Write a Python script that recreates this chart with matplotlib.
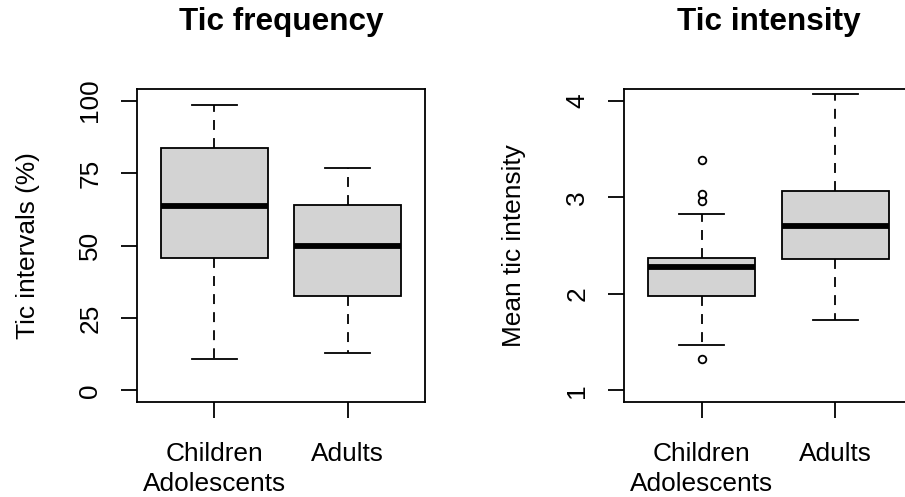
import matplotlib
matplotlib.use("Agg")
import matplotlib.pyplot as plt

# data
groups = ["Children\nAdolescents", "Adults"]

freq_whislo = [11.0, 13.0]
freq_q1 = [45.6, 32.5]
freq_med = [63.6, 49.9]
freq_q3 = [83.5, 63.9]
freq_whishi = [98.4, 76.9]
freq_fliers = [[], []]
freq_ticks = [0, 25, 50, 75, 100]

int_whislo = [1.47, 1.73]
int_q1 = [1.98, 2.36]
int_med = [2.28, 2.70]
int_q3 = [2.37, 3.06]
int_whishi = [2.83, 4.07]
int_fliers = [[3.39, 3.03, 2.96, 1.32], []]
int_ticks = [1, 2, 3, 4]

plt.rcParams['font.family'] = ['Liberation Sans', 'DejaVu Sans']

W, H = 905, 497
fig = plt.figure(figsize=(W / 100, H / 100), dpi=100, facecolor='white')


def make_stats(lo, q1, med, q3, hi, fl):
    out = []
    for i in range(len(groups)):
        out.append(dict(whislo=lo[i], q1=q1[i], med=med[i], q3=q3[i],
                        whishi=hi[i], fliers=fl[i], label=groups[i]))
    return out


def panel(rect, stats, ylim, ticks, ylab, title):
    ax = fig.add_axes(rect)
    ax.bxp(stats, positions=[1, 2], widths=0.8, patch_artist=True,
           capwidths=0.34,
           boxprops=dict(facecolor='#d3d3d3', edgecolor='black', linewidth=1.3),
           medianprops=dict(color='black', linewidth=4.2, solid_capstyle='butt'),
           whiskerprops=dict(color='black', linewidth=1.3, linestyle=(0, (5.5, 4.5))),
           capprops=dict(color='black', linewidth=1.3),
           flierprops=dict(marker='o', markerfacecolor='none', markeredgecolor='black',
                           markersize=5.5, markeredgewidth=1.3))
    ax.set_xlim(0.42, 2.58)
    ax.set_ylim(*ylim)
    ax.set_yticks(ticks)
    ax.set_yticklabels([str(t) for t in ticks])
    for s in ax.spines.values():
        s.set_linewidth(1.3)
    ax.tick_params(axis='both', length=11.5, width=1.3, labelsize=18.9)
    ax.tick_params(axis='x', pad=17)
    ax.tick_params(axis='y', pad=13.5)
    plt.setp(ax.get_yticklabels(), rotation=90, va='center')
    plt.setp(ax.get_xticklabels(), linespacing=1.35)
    ax.set_ylabel(ylab, fontsize=18.9, va='center')
    ax.yaxis.set_label_coords(-0.38, 0.5)
    x0, w = rect[0], rect[2]
    fig.text(x0 + w / 2, 1 - 30 / H, title, ha='center', va='baseline',
             fontsize=22.7, fontweight='bold')
    return ax


bottom = 1 - 402 / H
height = 313 / H
panel([137 / W, bottom, 288 / W, height],
      make_stats(freq_whislo, freq_q1, freq_med, freq_q3, freq_whishi, freq_fliers),
      (-4, 104), freq_ticks, "Tic intervals (%)", "Tic frequency")
panel([624 / W, bottom, 289 / W, height],
      make_stats(int_whislo, int_q1, int_med, int_q3, int_whishi, int_fliers),
      (0.88, 4.12), int_ticks, "Mean tic intensity", "Tic intensity")

fig.savefig("out.png", dpi=100)
